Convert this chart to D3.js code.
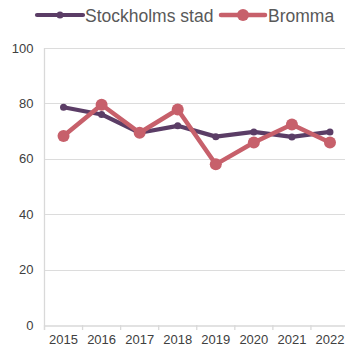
<!DOCTYPE html>
<html>
<head>
<meta charset="utf-8">
<script src="https://cdn.jsdelivr.net/npm/d3@7"></script>
<style>
  html, body { margin: 0; padding: 0; background: #fff; }
  svg { display: block; font-family: "Liberation Sans", Arial, sans-serif; }
</style>
</head>
<body>
<svg id="chart" width="345" height="347"></svg>
<script>
const years = ["2015", "2016", "2017", "2018", "2019", "2020", "2021", "2022"];
const stockholm = [78.6, 76.0, 69.4, 71.9, 68.0, 69.7, 67.9, 69.7];
const bromma = [68.2, 79.5, 69.4, 77.8, 58.0, 65.9, 72.4, 65.9];
const yTicks = [0, 20, 40, 60, 80, 100];
const seriesNames = ["Stockholms stad", "Bromma"];
const seriesColors = ["#5b3d66", "#c7606b"];

const svg = d3.select("#chart");
const margin = { left: 44.5, right: -4, top: 48, bottom: 22 };
const W = 345, H = 347;

const x = d3.scaleBand().domain(years).range([margin.left, W - margin.right]).paddingInner(0).paddingOuter(0);
const y = d3.scaleLinear().domain([0, 100]).range([325, 48]);

// horizontal gridlines
svg.append("g").selectAll("line").data(yTicks.filter(t => t > 0)).join("line")
  .attr("x1", margin.left).attr("x2", W)
  .attr("y1", d => Math.round(y(d)) + 0.5).attr("y2", d => Math.round(y(d)) + 0.5)
  .attr("stroke", "#dcdcdc").attr("stroke-width", 1);

// y axis labels
const yAxis = d3.axisLeft(y).tickValues(yTicks).tickSize(0).tickPadding(11);
const gy = svg.append("g").attr("transform", `translate(${margin.left},0)`).call(yAxis);
gy.select(".domain").remove();
gy.selectAll("text").attr("fill", "#404040").style("font-size", "13px").style("font-family", "Liberation Sans, Arial, sans-serif");

// left axis line
svg.append("line")
  .attr("x1", margin.left).attr("x2", margin.left)
  .attr("y1", y(100)).attr("y2", y(0) + 5)
  .attr("stroke", "#d9d9d9").attr("stroke-width", 1.3);

// x axis
const xAxis = d3.axisBottom(x).tickSizeOuter(0).tickSize(0).tickPadding(9);
const gx = svg.append("g").attr("transform", `translate(0,${Math.round(y(0)) + 0.5})`).call(xAxis);
gx.select(".domain").attr("stroke", "#d9d9d9").attr("stroke-width", 1.3);
gx.selectAll("text").attr("fill", "#404040").style("font-size", "13px").style("font-family", "Liberation Sans, Arial, sans-serif");
// category boundary ticks
svg.append("g").selectAll("line").data(years).join("line")
  .attr("x1", d => x(d)).attr("x2", d => x(d))
  .attr("y1", y(0)).attr("y2", y(0) + 5)
  .attr("stroke", "#d9d9d9").attr("stroke-width", 1.3);

const cx = d => x(d) + x.bandwidth() / 2;
const line = d3.line().x(d => cx(d.year)).y(d => y(d.value));

const series = [
  { name: seriesNames[0], values: stockholm, color: seriesColors[0], width: 4.2, r: 3.5 },
  { name: seriesNames[1], values: bromma, color: seriesColors[1], width: 4.5, r: 6 }
];

series.forEach(s => {
  const pts = years.map((yr, i) => ({ year: yr, value: s.values[i] }));
  svg.append("path").datum(pts)
    .attr("d", line).attr("fill", "none")
    .attr("stroke", s.color).attr("stroke-width", s.width)
    .attr("stroke-linejoin", "round");
  svg.append("g").selectAll("circle").data(pts).join("circle")
    .attr("cx", d => cx(d.year)).attr("cy", d => y(d.value))
    .attr("r", s.r).attr("fill", s.color);
});

// legend
const legendItems = [
  { x0: 37, x1: 83, tx: 85, r: 3.5, w: 4.2 },
  { x0: 221, x1: 265, tx: 268, r: 6, w: 4.5 }
];
series.forEach((s, i) => {
  const L = legendItems[i];
  const g = svg.append("g");
  g.append("line").attr("x1", L.x0).attr("x2", L.x1).attr("y1", 15).attr("y2", 15)
    .attr("stroke", s.color).attr("stroke-width", L.w).attr("stroke-linecap", "round");
  g.append("circle").attr("cx", (L.x0 + L.x1) / 2).attr("cy", 15).attr("r", L.r).attr("fill", s.color);
  g.append("text").attr("x", L.tx).attr("y", 21.5).text(s.name)
    .attr("fill", "#595959").style("font-size", "17.5px");
});
</script>
</body>
</html>
